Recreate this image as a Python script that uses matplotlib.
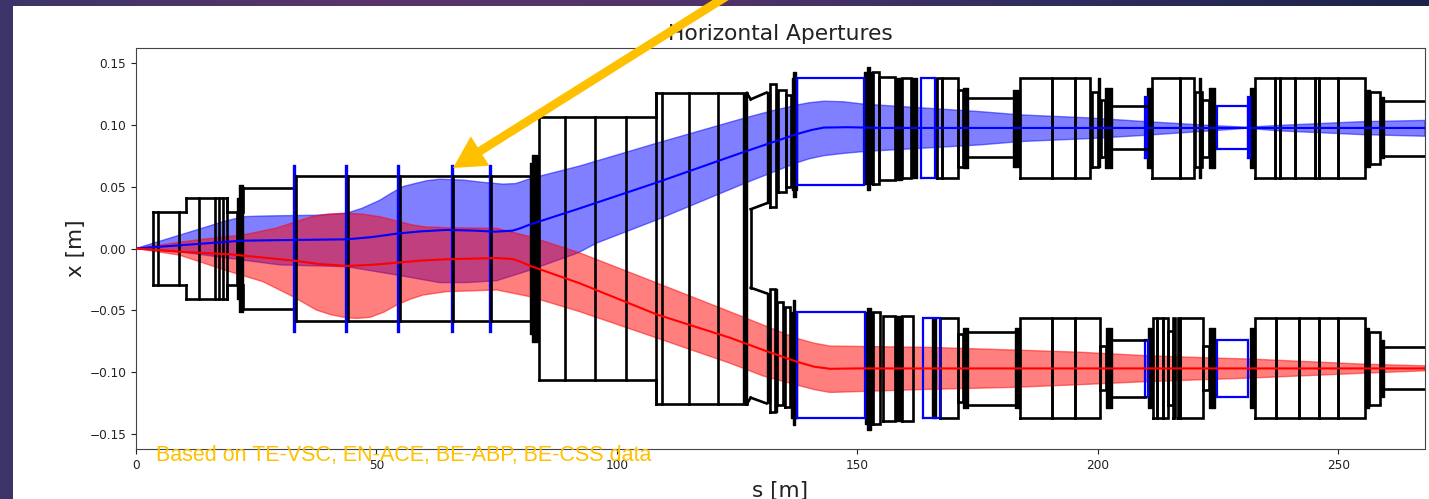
import numpy as np
import matplotlib
matplotlib.use("Agg")
import matplotlib.pyplot as plt
from matplotlib.colors import LinearSegmentedColormap

# Beam envelopes, red and blue
blue_up_s = [0, 12.6, 18, 22.2, 26, 30, 37, 43.8, 47, 50.7, 53, 55.5, 58, 60.5, 63.2, 68, 72, 76.3, 79, 82, 85, 92.3, 108.2, 126.6, 132, 137.5, 140, 143, 147, 151.2, 175.5, 183.8, 198.3, 210, 224, 231, 237.8, 255, 268]
blue_up = [0, 0.015, 0.0215, 0.0257, 0.0262, 0.0265, 0.0268, 0.0285, 0.0325, 0.039, 0.0445, 0.05, 0.0525, 0.0548, 0.056, 0.0553, 0.0535, 0.052, 0.0525, 0.0565, 0.0595, 0.0667, 0.085, 0.1055, 0.111, 0.116, 0.1178, 0.119, 0.1186, 0.1167, 0.1106, 0.108, 0.1055, 0.1025, 0.0993, 0.098, 0.0995, 0.1025, 0.1035]
blue_lo_s = [0, 9, 19.5, 30, 43.8, 54.2, 58.7, 63.2, 69, 75, 82, 92, 95.8, 108.2, 126.6, 137.5, 140, 143, 147, 151.2, 175.5, 183.8, 198.3, 210, 224, 231, 237.8, 255, 268]
blue_lo = [0, -0.0026, -0.008, -0.0133, -0.0147, -0.0214, -0.0245, -0.0276, -0.0275, -0.026, -0.0174, -0.0034, 0.0044, 0.023, 0.0527, 0.0694, 0.0725, 0.075, 0.0768, 0.0783, 0.0837, 0.0864, 0.0888, 0.0915, 0.0952, 0.0971, 0.095, 0.092, 0.0907]
blue_c_s = [0, 12.6, 22, 32.8, 43.8, 49, 54.2, 59, 64.5, 70, 74.7, 78.3, 80, 82, 92.3, 108.2, 126.6, 137.5, 140.5, 143, 148, 155, 268]
blue_c = [0, 0.0036, 0.0063, 0.0069, 0.0074, 0.0092, 0.012, 0.0138, 0.015, 0.0145, 0.0136, 0.0144, 0.0165, 0.0195, 0.0325, 0.0532, 0.0783, 0.0926, 0.0958, 0.0977, 0.098, 0.0974, 0.0974]

red_up_s = [0, 12.6, 22.2, 29, 36.5, 40, 43.8, 47, 50.7, 54, 57.5, 60, 64.5, 75, 82, 92.3, 108.2, 123.5, 130.4, 137.4, 141, 144.3, 165, 182.4, 196.3, 210, 224, 231.6, 255, 268]
red_up = [0, 0.0069, 0.0109, 0.0163, 0.0257, 0.0278, 0.0285, 0.0278, 0.0257, 0.0225, 0.019, 0.0175, 0.0168, 0.0163, 0.0095, -0.0036, -0.0277, -0.0511, -0.0618, -0.0726, -0.0765, -0.0788, -0.0799, -0.082, -0.0838, -0.0866, -0.0885, -0.0893, -0.0934, -0.0948]
red_lo_s = [0, 9, 19.5, 26.4, 32.7, 37.5, 40.5, 43.8, 46, 48.7, 51.5, 54.2, 57, 59.7, 64.5, 75, 82, 92.3, 108.2, 123.5, 130.4, 137.4, 141, 144.3, 165, 182.4, 196.3, 210, 224, 231.6, 255, 268]
red_lo = [0, -0.0053, -0.0187, -0.0268, -0.039, -0.0497, -0.0535, -0.056, -0.0565, -0.0556, -0.0515, -0.0457, -0.041, -0.0376, -0.0349, -0.0335, -0.039, -0.0511, -0.0722, -0.0927, -0.103, -0.1103, -0.114, -0.1163, -0.1138, -0.1122, -0.11, -0.1076, -0.1057, -0.1047, -0.1008, -0.0988]
red_c_s = [0, 9, 19.5, 32.8, 38, 43.8, 49, 54.2, 59, 64.5, 75, 78.3, 80, 82, 92.3, 108.2, 123.5, 130.4, 137.4, 141, 144.3, 150, 268]
red_c = [0, -0.0026, -0.0047, -0.0098, -0.0125, -0.0141, -0.0132, -0.0115, -0.0098, -0.0087, -0.0077, -0.0085, -0.0108, -0.0141, -0.0282, -0.0532, -0.0721, -0.082, -0.0915, -0.0955, -0.0972, -0.0969, -0.0969]

# Shared chamber, mirrored around zero: (s start, s end, half width)
common_lines = [(3.6, 10.4, 0.0295), (10.4, 19, 0.0408), (19, 20.9, 0.0295), (22.3, 32.8, 0.0487),
                (33.2, 82.3, 0.0586), (83.8, 108.2, 0.1066), (108.2, 127, 0.1257)]
common_verts = [(3.6, 0.0295), (4.5, 0.0295), (8.9, 0.0295), (13.1, 0.0408), (16.4, 0.0408),
                (17.3, 0.0408), (18, 0.0408), (18.9, 0.0408), (20.9, 0.0295), (33.2, 0.0586), (44.1, 0.0586),
                (54.9, 0.0586), (66, 0.0586), (73.9, 0.0586), (83.8, 0.1066), (89.2, 0.1066), (95.5, 0.1066),
                (101.8, 0.1066), (108.2, 0.1257), (109.3, 0.1257), (115, 0.1257), (121, 0.1257), (126.8, 0.1257)]
common_steps = [(10.4, 0.0295, 0.0408), (10.4, -0.0295, -0.0408), (19, 0.0295, 0.0408), (19, -0.0295, -0.0408),
                (22.3, 0.0487, 0.0295), (22.3, -0.0487, -0.0295), (33, 0.0487, 0.0586), (33, -0.0487, -0.0586),
                (108.2, 0.1066, 0.1257), (108.2, -0.1066, -0.1257)]
common_blue = [(32.8, 0.0667), (43.7, 0.0667), (54.5, 0.0667), (65.6, 0.0667), (73.5, 0.0667)]
common_thick = [(21, 21.8, 0.041), (21.5, 22.3, 0.0513), (82, 83.6, 0.069), (82.4, 83.6, 0.0756), (126.3, 127, 0.1257)]

# Upper beam pipe: (s start, s end, low, high)
up_boxes = [(131.8, 133, 0.0338, 0.1327), (133.5, 135.1, 0.046, 0.1281), (135.1, 136.1, 0.05, 0.1241),
            (153.3, 154.5, 0.0521, 0.1424), (154.5, 157.8, 0.0554, 0.1389), (159.2, 161.2, 0.0573, 0.1376),
            (166.6, 167.5, 0.0573, 0.1376), (167.5, 171, 0.0573, 0.1376), (171, 172, 0.0662, 0.1281),
            (183.8, 190.4, 0.0573, 0.1376), (190.4, 195.2, 0.0573, 0.1376), (195.2, 198.4, 0.0573, 0.1376),
            (198.7, 200.1, 0.0662, 0.1268), (200.6, 201.5, 0.074, 0.12),
            (211.2, 217.1, 0.0573, 0.1376), (217.1, 219.9, 0.0573, 0.1376), (220.2, 221.6, 0.0662, 0.1268),
            (221.6, 223, 0.074, 0.12), (232.7, 236.8, 0.0573, 0.1376), (236.8, 237.9, 0.0573, 0.1376),
            (237.9, 241, 0.0573, 0.1376), (241, 245.1, 0.0573, 0.1376), (245.1, 246, 0.0573, 0.1376),
            (246, 250, 0.0573, 0.1376), (250, 255.5, 0.0573, 0.1376), (256.6, 258.7, 0.0681, 0.1268)]
up_thick = [(131.1, 131.8, 0.0365, 0.1268), (133, 133.5, 0.046, 0.1281), (136.3, 137.5, 0.0473, 0.1378),
            (136.6, 137.2, 0.0419, 0.1429), (151.4, 153.3, 0.0521, 0.1424), (151.9, 152.6, 0.0473, 0.147),
            (157.8, 159.2, 0.0554, 0.1376), (161.2, 162.3, 0.0573, 0.1376), (166.1, 166.6, 0.0573, 0.1376),
            (172, 172.9, 0.0653, 0.1295), (182.4, 183.8, 0.0656, 0.1281), (200.1, 200.5, 0.0662, 0.1376),
            (201.5, 203, 0.0648, 0.1295), (210.1, 211.2, 0.0648, 0.1295), (221, 221.4, 0.0573, 0.1376),
            (223, 224.4, 0.0648, 0.1295), (231.6, 232.7, 0.0648, 0.1295), (255.5, 256.6, 0.0656, 0.1281),
            (258.7, 259.5, 0.0729, 0.1222)]
up_blue = [(137.5, 151.4, 0.0513, 0.1376), (163.3, 166.1, 0.0573, 0.1376), (209.7, 210.2, 0.0729, 0.1222),
           (224.7, 231.3, 0.0802, 0.1155), (231.3, 231.7, 0.0729, 0.1222)]
up_pipes = [(172.9, 182.4, 0.0737, 0.1214), (203, 209.9, 0.0802, 0.1155), (259.5, 268, 0.0751, 0.1195)]
up_ramps = [(127.8, 131.1, 0.1205, 0.126), (127.8, 131.1, 0.0317, 0.0365)]

# Lower beam pipe
lo_boxes = [(131.8, 132.9, -0.1319, -0.0327), (133.2, 134.6, -0.1265, -0.043), (134.9, 136, -0.1279, -0.047),
            (153.3, 154.7, -0.1419, -0.0516), (155.4, 157.8, -0.1392, -0.0546), (159.2, 161.6, -0.1392, -0.0546),
            (167.2, 171, -0.1368, -0.0565), (171, 172, -0.124, -0.069), (183.8, 190.5, -0.1368, -0.0565),
            (190.5, 195.2, -0.1368, -0.0565), (195.2, 200.5, -0.1368, -0.0565), (200.5, 201.6, -0.1144, -0.0786),
            (211.4, 212.2, -0.1368, -0.0565), (212.2, 213.6, -0.1368, -0.0565), (213.6, 214.5, -0.1368, -0.0565),
            (214.5, 215.7, -0.1265, -0.0664), (215.7, 216, -0.1368, -0.0565), (216.7, 217.1, -0.1368, -0.0565),
            (217.1, 221.9, -0.1368, -0.0565), (221.9, 223.1, -0.1144, -0.0786), (232.7, 237, -0.1368, -0.0565),
            (237, 241.7, -0.1368, -0.0565), (241.7, 246, -0.1368, -0.0565), (246, 250, -0.1368, -0.0565),
            (250, 255.5, -0.1368, -0.0565), (256.4, 258.7, -0.1265, -0.0678)]
lo_thick = [(131.1, 131.8, -0.1252, -0.0362), (132.9, 133.2, -0.1319, -0.0327), (136.2, 137.4, -0.1368, -0.0511),
            (136.5, 137.1, -0.1427, -0.0416), (151.6, 153.3, -0.1419, -0.0516), (152, 152.8, -0.147, -0.048),
            (157.8, 159.2, -0.1392, -0.0546), (165.4, 166.3, -0.1368, -0.0565), (172, 173, -0.1287, -0.0645),
            (182.8, 183.8, -0.1287, -0.0645), (201.6, 203, -0.1292, -0.0645), (210.4, 211.2, -0.1292, -0.0645),
            (223.1, 224.4, -0.1292, -0.0645), (231.6, 232.7, -0.1292, -0.0645), (255.5, 256.4, -0.1292, -0.0645),
            (258.7, 259.4, -0.1198, -0.074)]
lo_blue = [(137.4, 151.6, -0.1368, -0.0511), (163.6, 167.2, -0.1368, -0.0565), (209.8, 210.4, -0.1198, -0.074),
           (224.7, 231.3, -0.1198, -0.074)]
lo_pipes = [(173, 182.8, -0.1265, -0.0678), (203, 209.8, -0.1198, -0.074), (259.4, 268, -0.1139, -0.0799)]
lo_ramps = [(127.8, 131.1, -0.0317, -0.0362), (127.8, 131.1, -0.1205, -0.1252)]

pipe_s = [127.8, 127.8]
pipe_x = [-0.0317, 0.0317]
outer_s = [127, 127.8]
outer_x = [0.1257, 0.1205]

xticks = [0, 50, 100, 150, 200, 250]
yticks = [-0.15, -0.10, -0.05, 0.00, 0.05, 0.10, 0.15]
bg_colors = ["#3c3469", "#5a3468", "#4f3368", "#2d2d5f", "#1e2248"]

LW = 1.9
ORANGE = "#FFC000"

fig = plt.figure(figsize=(14.29, 4.99), dpi=100)

# slide background
bg = fig.add_axes([0, 0, 1, 1], zorder=-2)
cmap = LinearSegmentedColormap.from_list("slide", bg_colors)
bg.imshow(np.linspace(0, 1, 256).reshape(1, -1), aspect="auto", cmap=cmap, extent=[0, 1, 0, 1])
bg.axis("off")
panel = fig.add_axes([13 / 1429, 0, 1 - 13 / 1429, 1 - 6 / 499], zorder=-1)
panel.set_facecolor("white")
panel.set_xticks([])
panel.set_yticks([])
for sp in panel.spines.values():
    sp.set_visible(False)

ax = fig.add_axes([136 / 1429, 1 - 449 / 499, (1425 - 136) / 1429, (449 - 48) / 499])

ax.fill(blue_up_s + blue_lo_s[::-1], blue_up + blue_lo[::-1], color="blue", alpha=0.5, lw=1, zorder=1)
ax.fill(red_up_s + red_lo_s[::-1], red_up + red_lo[::-1], color="red", alpha=0.5, lw=1, zorder=1.1)


def box(s0, s1, lo, hi, color="black", lw=LW):
    ax.plot([s0, s0, s1, s1, s0], [lo, hi, hi, lo, lo], color=color, lw=lw, zorder=3, solid_joinstyle="miter")


def thick(s0, s1, lo, hi):
    ax.fill_between([s0, s1], lo, hi, color="black", lw=1, zorder=3)


# shared chamber
for s0, s1, h in common_lines:
    ax.plot([s0, s1], [h, h], color="black", lw=LW, zorder=3)
    ax.plot([s0, s1], [-h, -h], color="black", lw=LW, zorder=3)
for s, lo, hi in common_steps:
    ax.plot([s, s], [lo, hi], color="black", lw=LW, zorder=3)
for s, h in common_blue:
    ax.plot([s, s], [-h, h], color="blue", lw=2.4, zorder=3)
for s, h in common_verts:
    ax.plot([s, s], [-h, h], color="black", lw=LW, zorder=3)
for s0, s1, h in common_thick:
    thick(s0, s1, -h, h)

# two beam pipes
for s0, s1, lo, hi in up_boxes + lo_boxes:
    box(s0, s1, lo, hi)
for s0, s1, lo, hi in up_thick + lo_thick:
    thick(s0, s1, lo, hi)
for s0, s1, lo, hi in up_blue + lo_blue:
    box(s0, s1, lo, hi, color="blue", lw=1.6)
for s0, s1, lo, hi in up_pipes + lo_pipes:
    ax.plot([s0, s1], [lo, lo], color="black", lw=LW, zorder=3)
    ax.plot([s0, s1], [hi, hi], color="black", lw=LW, zorder=3)
for s0, s1, lo, hi in up_ramps + lo_ramps:
    ax.plot([s0, s1], [lo, hi], color="black", lw=LW, zorder=3)
ax.plot(pipe_s, pipe_x, color="black", lw=LW, zorder=3)
ax.plot(outer_s, outer_x, color="black", lw=LW, zorder=3)
ax.plot(outer_s, [-v for v in outer_x], color="black", lw=LW, zorder=3)

ax.plot(blue_c_s, blue_c, color="blue", lw=1.5, zorder=4)
ax.plot(red_c_s, red_c, color="red", lw=1.5, zorder=4.1)

ax.set_xlim(0, 268)
ax.set_ylim(-0.162, 0.162)
ax.set_xticks(xticks)
ax.set_yticks(yticks)
ax.tick_params(labelsize=8.7, colors="#222222", length=3.5, width=0.8)
for sp in ax.spines.values():
    sp.set_color("#444444")
ax.set_xlabel("s [m]", fontsize=15.5, color="#222222", labelpad=7)
ax.set_ylabel("x [m]", fontsize=15.5, color="#222222", labelpad=2.5)
ax.set_title("Horizontal Apertures", fontsize=15.7, color="#222222", pad=6)

fig.text(156 / 1429, 1 - 455 / 499, "Based on TE-VSC, EN-ACE, BE-ABP, BE-CSS data", color=ORANGE,
         family="Liberation Sans", fontsize=15.5, va="center", ha="left", zorder=10)

# arrow coming in from the top of the slide
ax.annotate("", xy=(453, 499 - 168), xytext=(727, 499 + 4), xycoords="figure pixels", textcoords="figure pixels",
            annotation_clip=False, zorder=11,
            arrowprops=dict(arrowstyle="simple,head_length=2.3,head_width=2.5,tail_width=0.62", color=ORANGE, lw=0,
                            shrinkA=0, shrinkB=0, mutation_scale=10))

fig.savefig("out.png", dpi=100)
